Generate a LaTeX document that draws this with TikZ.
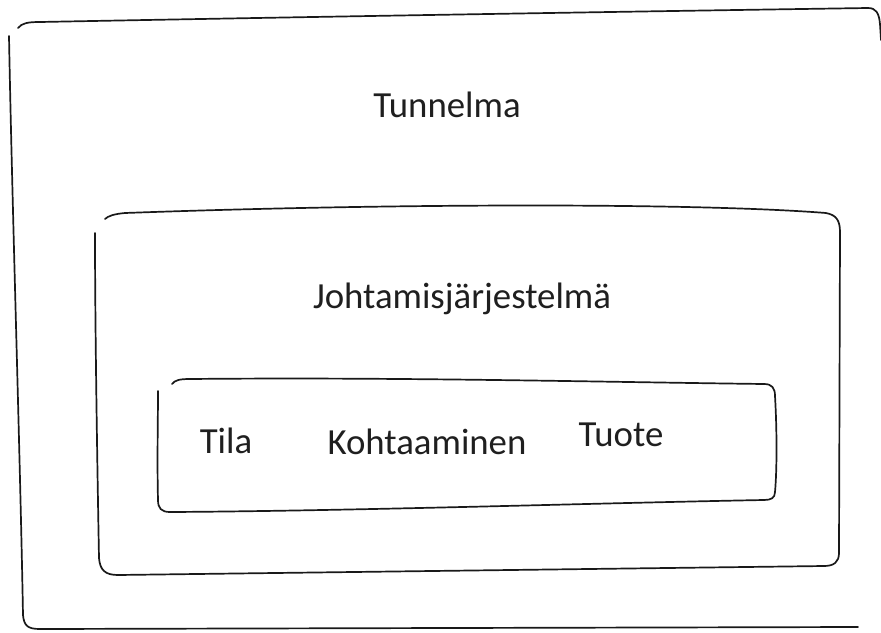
\documentclass[tikz,border=0pt]{standalone}
\usepackage{fontspec}
\setmainfont{Carlito}
\begin{document}
\begin{tikzpicture}[x=1pt,y=-1pt,
  pen/.style={draw=black!90,line width=1.7pt,line cap=round,line join=round},
  lbl/.style={anchor=base,inner sep=0pt,text=black!88,font=\fontsize{36.8}{41}\selectfont}]
\useasboundingbox (0,0) rectangle (881,632);
% outer box
\draw[pen] (18,28) .. controls (22,23) and (28,22) .. (40,22)
  .. controls (300,17) and (600,12) .. (868,8)
  .. controls (876,8) and (879,13) .. (880,24) -- (881,40);
\draw[pen] (9,36) .. controls (12,200) and (20,450) .. (23,615)
  .. controls (24,626) and (28,629) .. (40,629)
  -- (858,627);
% middle box
\draw[pen] (105,219) .. controls (108,216) and (114,214) .. (125,213)
  .. controls (400,203) and (700,203) .. (826,213)
  .. controls (836,215) and (840,220) .. (840,232)
  -- (839,553)
  .. controls (839,562) and (834,566) .. (824,566)
  -- (118,575)
  .. controls (105,575) and (100,570) .. (99,558)
  .. controls (97,450) and (95,320) .. (95,233);
% inner box
\draw[pen] (172,384) .. controls (175,380) and (180,379) .. (190,379)
  .. controls (400,377) and (600,382) .. (764,384)
  .. controls (772,384) and (775,388) .. (775,396)
  .. controls (777,430) and (777,470) .. (775,492)
  .. controls (775,498) and (771,500) .. (764,500)
  .. controls (600,503) and (350,511) .. (170,512)
  .. controls (161,512) and (158,508) .. (158,500)
  .. controls (157,460) and (158,420) .. (158,391);
% labels
\node[lbl] (tunnelma) at (447,117) {Tunnelma};
\node[lbl] (johto) at (462,308) {Johtamisjärjestelmä};
\node[lbl] (tila) at (226,453) {Tila};
\node[lbl] (kohtaaminen) at (427,454) {Kohtaaminen};
\node[lbl] (tuote) at (621,446) {Tuote};
\end{tikzpicture}
\end{document}
